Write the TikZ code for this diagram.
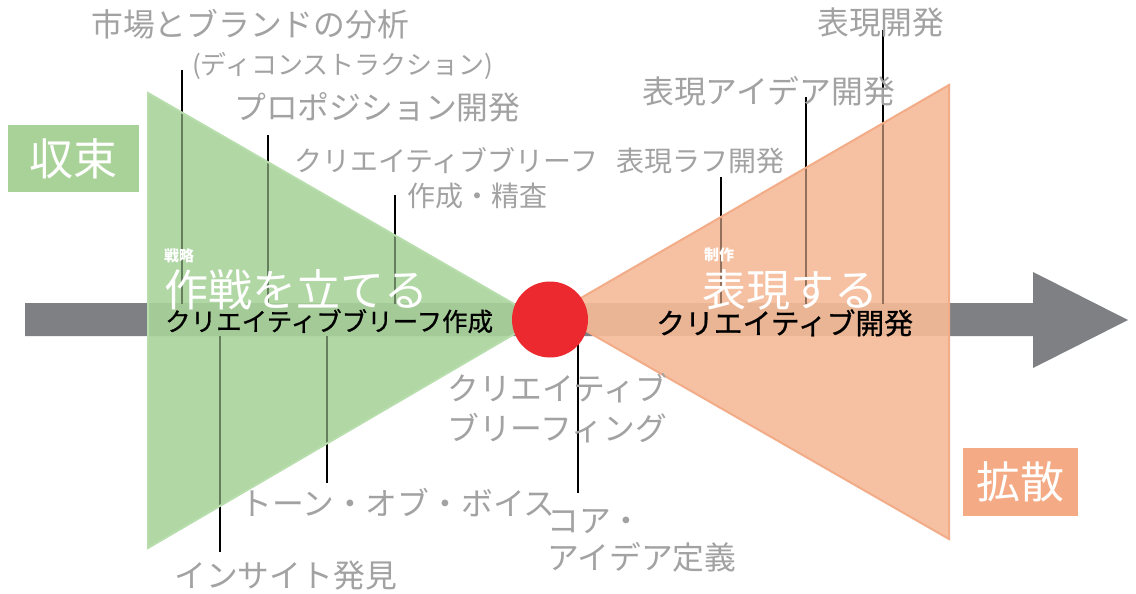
\documentclass[tikz,border=0pt]{standalone}
\usepackage{fontspec}
\setmainfont{Noto Sans CJK JP}
\newfontfamily\medfont[FakeBold=0.7]{Noto Sans CJK JP}
\definecolor{trigreen}{RGB}{169,211,155}
\definecolor{trigreenedge}{RGB}{184,221,172}
\definecolor{triorange}{RGB}{246,187,152}
\definecolor{triorangeedge}{RGB}{243,172,136}
\definecolor{boxgreen}{RGB}{169,210,153}
\definecolor{boxorange}{RGB}{244,170,132}
\definecolor{shaftgray}{RGB}{127,128,132}
\definecolor{dotred}{RGB}{236,41,46}
\definecolor{labelgray}{RGB}{162,162,162}
\begin{document}
\begin{tikzpicture}[x=1pt,y=-1pt,
  lbl/.style={anchor=base west,inner sep=0pt,text=labelgray,font=\fontsize{31.8}{32}\selectfont},
  midlbl/.style={anchor=base west,inner sep=0pt,text=labelgray,font=\fontsize{28}{28}\selectfont},
  smalllbl/.style={anchor=base west,inner sep=0pt,text=labelgray,font=\fontsize{26}{26}\selectfont},
  bigwhite/.style={anchor=base west,inner sep=0pt,text=white,font=\fontsize{44}{44}\selectfont},
  tinywhite/.style={anchor=base west,inner sep=0pt,text=white,font=\fontsize{15}{15}\selectfont\bfseries},
  blacklbl/.style={anchor=base west,inner sep=0pt,text=black,font=\fontsize{25.5}{26}\medfont},
  leader/.style={draw=black,line width=1.4pt},
  phasebox/.style={inner sep=0pt,text=white,font=\fontsize{44}{44}\selectfont}]
\useasboundingbox (0,0) rectangle (1136,594);
\fill[white] (0,0) rectangle (1136,594);

% shaft with arrow head
\fill[shaftgray] (25,303) -- (1033,303) -- (1033,272) -- (1128,320) -- (1033,368) -- (1033,336) -- (25,336) -- cycle;

% triangles, first layer
\fill[trigreen,fill opacity=0.75] (148,93) -- (540,319) -- (148,548) -- cycle;
\fill[triorange,fill opacity=0.75] (949,85) -- (555,313) -- (949,539) -- cycle;

% leader line end points
\coordinate (l1t) at (182,70);   \coordinate (l1b) at (182,304);
\coordinate (l2t) at (268,135);  \coordinate (l2b) at (268,304);
\coordinate (l3t) at (395,195);  \coordinate (l3b) at (395,304);
\coordinate (l4t) at (721,177);  \coordinate (l4b) at (721,304);
\coordinate (l5t) at (806,97);   \coordinate (l5b) at (806,304);
\coordinate (l6t) at (883,30);   \coordinate (l6b) at (883,304);
\coordinate (b1t) at (220,336);  \coordinate (b1b) at (220,552);
\coordinate (b2t) at (327,336);  \coordinate (b2b) at (327,483);
\coordinate (b3t) at (578,340);  \coordinate (b3b) at (578,493);

\draw[leader] (l1t) -- (l1b);
\draw[leader] (l2t) -- (l2b);
\draw[leader] (l3t) -- (l3b);
\draw[leader] (l4t) -- (l4b);
\draw[leader] (l5t) -- (l5b);
\draw[leader] (l6t) -- (l6b);
\draw[leader] (b1t) -- (b1b);
\draw[leader] (b2t) -- (b2b);
\draw[leader] (b3t) -- (b3b);

% triangles, second layer
\filldraw[fill=trigreen,fill opacity=0.6,draw=trigreenedge,line width=2pt,line join=miter] (148,93) -- (540,319) -- (148,548) -- cycle;
\filldraw[fill=triorange,fill opacity=0.6,draw=triorangeedge,line width=2pt,line join=miter] (949,85) -- (555,313) -- (949,539) -- cycle;

% core dot
\node[circle,fill=dotred,minimum size=76pt,inner sep=0pt] (core) at (550,319.5) {};

% phase boxes
\node[phasebox,fill=boxgreen,minimum width=131pt,minimum height=67pt] (conv) at (73.5,158.5) {収束};
\node[phasebox,fill=boxorange,minimum width=115pt,minimum height=68pt] (div) at (1020,482) {拡散};

% inner texts
\node[tinywhite] (senryaku) at (164,261) {戦略};
\node[bigwhite] (sakusen) at (164,306) {作戦を立てる};
\node[blacklbl] (brief) at (165,331) {クリエイティブブリーフ作成};
\node[tinywhite] (seisaku) at (704,260) {制作};
\node[bigwhite] (hyougen) at (702,306) {表現する};
\node[blacklbl,font=\fontsize{28.8}{29}\medfont] (cdev) at (656,334) {クリエイティブ開発};

% gray labels
\node[lbl] (t1) at (91,37) {市場とブランドの分析};
\node[smalllbl] (t1b) at (192,75) {(ディコンストラクション)};
\node[lbl] (t2) at (234,119) {プロポジション開発};
\node[midlbl] (t3) at (294,171) {クリエイティブブリーフ};
\node[midlbl] (t3b) at (407,206) {作成・精査};
\node[midlbl] (t4) at (616,171) {表現ラフ開発};
\node[lbl] (t5) at (642,103) {表現アイデア開発};
\node[lbl] (t6) at (817,35) {表現開発};
\node[lbl] (t7) at (174,587) {インサイト発見};
\node[lbl] (t8) at (240,515) {トーン・オブ・ボイス};
\node[lbl] (t9) at (447,400) {クリエイティブ};
\node[lbl] (t9b) at (447,440) {ブリーフィング};
\node[lbl] (t10) at (547,532) {コア・};
\node[lbl] (t10b) at (547,569) {アイデア定義};
\end{tikzpicture}
\end{document}
